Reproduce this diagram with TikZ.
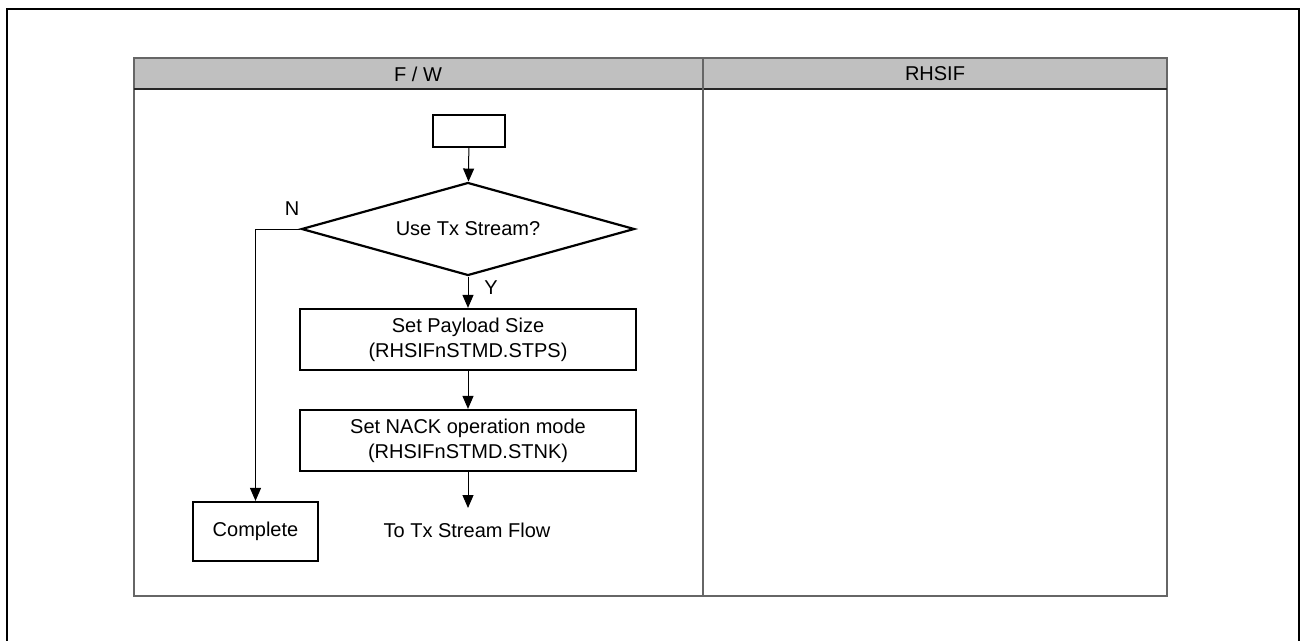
\documentclass[tikz,border=0pt]{standalone}
\usepackage{fontspec}
\setmainfont{Liberation Sans}
\usetikzlibrary{shapes.geometric,arrows.meta}
\begin{document}
\begin{tikzpicture}[x=1pt,y=-1pt,
  every node/.style={font=\fontsize{20}{25}\selectfont},
  procbox/.style={draw=black,line width=2.2pt,align=center,inner sep=0pt},
  decision/.style={draw=black,line width=2.2pt,shape=diamond,aspect=3.58,inner sep=0pt,minimum width=333pt,minimum height=93pt},
  flow/.style={draw=black,line width=1pt,-{Triangle[length=13pt,width=11pt]}},
  tableline/.style={draw=black!60,line width=1.6pt}]
\useasboundingbox (0,0) rectangle (1301,640);
% outer frame
\draw[line width=2.6pt] (7,9) rectangle (1299,680);
% table
\fill[fill={rgb,255:red,192;green,192;blue,192}] (134,58) rectangle (1167,89);
\draw[tableline] (134,58) rectangle (1167,596);
\draw[line width=1.4pt,black!85] (134,89) -- (1167,89);
\draw[tableline] (703,58) -- (703,596);
\node (hfw) at (418,74) {F / W};
\node (hrh) at (935,74) {RHSIF};
% flowchart
\node[procbox,minimum width=72pt,minimum height=32pt] (start) at (469,131) {};
\node[decision] (dec) at (468,229) {Use Tx Stream?};
\node[procbox,minimum width=336pt,minimum height=61pt] (b1) at (468,339.5) {Set Payload Size\\(RHSIFnSTMD.STPS)};
\node[procbox,minimum width=336pt,minimum height=61pt] (b2) at (468,440.5) {Set NACK operation mode\\(RHSIFnSTMD.STNK)};
\node[procbox,minimum width=125pt,minimum height=59pt] (comp) at (255.5,531.5) {Complete};
\node (tostream) at (467,530) {To Tx Stream Flow};
\coordinate (end) at (468,508);
\coordinate (nturn) at (255.5,229);
\node (nlab) at (292,209) {N};
\node (ylab) at (491,288) {Y};
\draw[flow] (start) -- (dec);
\draw[flow] (dec) -- (b1);
\draw[flow] (b1) -- (b2);
\draw[flow] (b2) -- (end);
\draw[flow] (dec.west) -- (nturn) -- (comp);
\end{tikzpicture}
\end{document}
